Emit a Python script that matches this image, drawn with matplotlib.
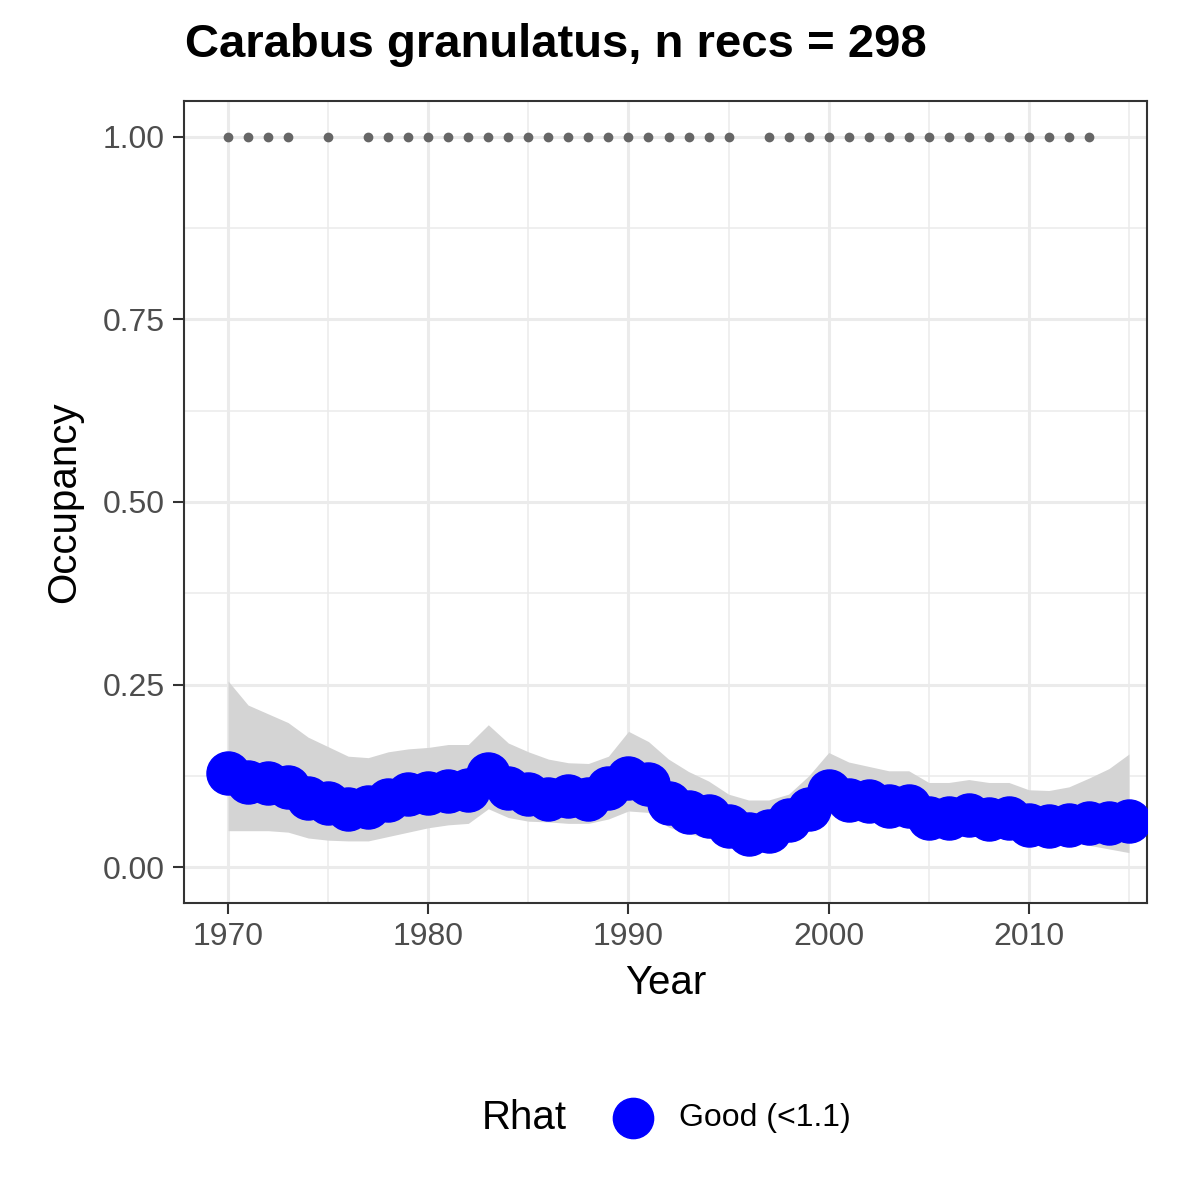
import matplotlib
matplotlib.use("Agg")
import matplotlib.pyplot as plt
from matplotlib.lines import Line2D

plt.rcParams['font.family'] = ['Liberation Sans', 'DejaVu Sans']

years = list(range(1970, 2016))
mean = [.129,.117,.115,.110,.095,.088,.080,.082,.092,.100,.102,.105,.106,.128,.108,.100,.094,.097,.094,.108,
        .122,.114,.088,.076,.070,.056,.046,.050,.064,.080,.104,.092,.090,.084,.084,.068,.068,.072,.066,.068,
        .058,.056,.058,.060,.060,.063]
upper = [.255,.222,.21,.198,.178,.165,.152,.150,.158,.162,.164,.168,.168,.195,.17,.158,.148,.143,.142,.152,
         .186,.172,.148,.131,.118,.100,.092,.092,.100,.125,.157,.144,.138,.132,.132,.116,.116,.120,.116,.116,
         .106,.105,.110,.122,.135,.155]
lower = [.05,.05,.05,.048,.04,.037,.036,.036,.042,.048,.054,.058,.06,.08,.068,.063,.062,.06,.06,.066,
         .077,.075,.055,.046,.040,.030,.025,.028,.038,.052,.073,.064,.063,.060,.06,.05,.05,.052,.048,.046,
         .04,.038,.034,.030,.025,.020]
rec_years = [1970,1971,1972,1973,1975] + list(range(1977,1996)) + list(range(1997,2014))

fig = plt.figure(figsize=(12,12), dpi=100)
ax = fig.add_axes([184/1200, 1-903/1200, (1147-184)/1200, (903-101)/1200])
ax.fill_between(years, lower, upper, color='#d4d4d4', lw=0, zorder=2)
ax.plot(years, mean, color='blue', lw=14, zorder=3, solid_capstyle='round')
ax.plot(years, mean, 'o', color='blue', ms=31, zorder=4)
ax.plot(rec_years, [1]*len(rec_years), 'o', color='#666666', ms=6, zorder=4)

ax.set_xlim(1967.8, 2015.9)
ax.set_ylim(-0.049, 1.049)
ax.set_xticks([1970,1980,1990,2000,2010])
ax.set_yticks([0,.25,.5,.75,1])
ax.set_yticklabels(['0.00','0.25','0.50','0.75','1.00'])
ax.set_xticks([1975,1985,1995,2005,2015], minor=True)
ax.set_yticks([.125,.375,.625,.875], minor=True)
ax.grid(True, which='major', color='#ebebeb', lw=2.2, zorder=0)
ax.grid(True, which='minor', color='#ebebeb', lw=1.1, zorder=0)
ax.set_axisbelow(True)
for s in ax.spines.values():
    s.set_color('#333333'); s.set_linewidth(1.5)
ax.tick_params(which='major', length=8, width=1.5, color='#333333', labelsize=23, labelcolor='#4d4d4d', pad=6)
ax.tick_params(which='minor', length=0)
ax.set_xlabel('Year', fontsize=29, labelpad=8)
ax.set_ylabel('Occupancy', fontsize=29, labelpad=14)
fig.text(185/1200, 1-45/1200, 'Carabus granulatus, n recs = 298', fontsize=34, fontweight='bold', va='center', ha='left')

# legend
ly = 1 - 1118/1200
fig.text(482/1200, ly, 'Rhat', fontsize=29, va='center', ha='left')
fig.add_artist(Line2D([633/1200], [ly], marker='o', color='blue', ls='', ms=29, transform=fig.transFigure))
fig.text(679/1200, ly, 'Good (<1.1)', fontsize=23, va='center', ha='left')
fig.savefig('out.png', dpi=100)
